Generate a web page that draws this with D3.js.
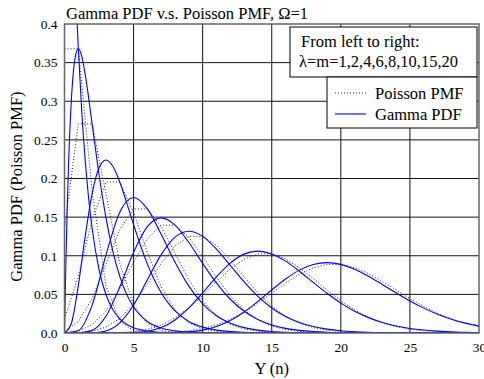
<!DOCTYPE html>
<html>
<head>
<meta charset="utf-8">
<script src="https://cdn.jsdelivr.net/npm/d3@7"></script>
<style>
  html, body { margin: 0; padding: 0; background: #fff; }
  svg { display: block; }
  text { font-family: "Liberation Serif", "Times New Roman", serif; fill: #000; }
</style>
</head>
<body>
<svg id="chart" width="484" height="379"></svg>
<script>
// ---------- data ----------
const xTicks = [0, 5, 10, 15, 20, 25, 30];
const yTicks = [0, 0.05, 0.1, 0.15, 0.2, 0.25, 0.3, 0.35, 0.4];
const yTickLabels = ["0.0", "0.05", "0.1", "0.15", "0.2", "0.25", "0.3", "0.35", "0.4"];
const orders = [1, 2, 4, 6, 8, 10, 15, 20];

// Poisson PMF at n = 0..30
const nValues = [0,1,2,3,4,5,6,7,8,9,10,11,12,13,14,15,16,17,18,19,20,21,22,23,24,25,26,27,28,29,30];
const poisson1  = [0.3679,0.3679,0.1839,0.0613,0.0153,0.0031,0.0005,0.0001,0,0,0,0,0,0,0,0,0,0,0,0,0,0,0,0,0,0,0,0,0,0,0];
const poisson2  = [0.1353,0.2707,0.2707,0.1804,0.0902,0.0361,0.0120,0.0034,0.0009,0.0002,0,0,0,0,0,0,0,0,0,0,0,0,0,0,0,0,0,0,0,0,0];
const poisson4  = [0.0183,0.0733,0.1465,0.1954,0.1954,0.1563,0.1042,0.0595,0.0298,0.0132,0.0053,0.0019,0.0006,0.0002,0.0001,0,0,0,0,0,0,0,0,0,0,0,0,0,0,0,0];
const poisson6  = [0.0025,0.0149,0.0446,0.0892,0.1339,0.1606,0.1606,0.1377,0.1033,0.0688,0.0413,0.0225,0.0113,0.0052,0.0022,0.0009,0.0003,0.0001,0,0,0,0,0,0,0,0,0,0,0,0,0];
const poisson8  = [0.0003,0.0027,0.0107,0.0286,0.0573,0.0916,0.1221,0.1396,0.1396,0.1241,0.0993,0.0722,0.0481,0.0296,0.0169,0.0090,0.0045,0.0021,0.0009,0.0004,0.0002,0.0001,0,0,0,0,0,0,0,0,0];
const poisson10 = [0,0.0005,0.0023,0.0076,0.0189,0.0378,0.0631,0.0901,0.1126,0.1251,0.1251,0.1137,0.0948,0.0729,0.0521,0.0347,0.0217,0.0128,0.0071,0.0037,0.0019,0.0009,0.0004,0.0002,0.0001,0,0,0,0,0,0];
const poisson15 = [0,0,0,0.0002,0.0006,0.0019,0.0048,0.0104,0.0194,0.0324,0.0486,0.0663,0.0829,0.0956,0.1024,0.1024,0.0960,0.0847,0.0706,0.0557,0.0418,0.0299,0.0204,0.0133,0.0083,0.0050,0.0029,0.0016,0.0009,0.0004,0.0002];
const poisson20 = [0,0,0,0,0,0.0001,0.0002,0.0005,0.0013,0.0029,0.0058,0.0106,0.0176,0.0271,0.0387,0.0516,0.0646,0.0760,0.0844,0.0888,0.0888,0.0846,0.0769,0.0669,0.0557,0.0446,0.0343,0.0254,0.0181,0.0125,0.0083];

// Gamma PDF samples (Omega = 1)
const gammaX1 = [0,0.25,0.5,0.75,0.9,1,1.25,1.5,1.75,2,2.5,3,3.5,4,5,6,7,8,10,30];
const gamma1  = [1,0.7788,0.6065,0.4724,0.4066,0.3679,0.2865,0.2231,0.1738,0.1353,0.0821,0.0498,0.0302,0.0183,0.0067,0.0025,0.0009,0.0003,0,0];
const gammaX2 = [0,0.1,0.2,0.3,0.4,0.5,0.6,0.8,1,1.25,1.5,1.75,2,2.5,3,3.5,4,4.5,5,6,7,8,9,10,12,30];
const gamma2  = [0,0.0905,0.1637,0.2222,0.2681,0.3033,0.3293,0.3595,0.3679,0.3581,0.3347,0.3041,0.2707,0.2052,0.1494,0.1057,0.0733,0.0500,0.0337,0.0149,0.0064,0.0027,0.0011,0.0005,0.0001,0];
const gammaX4 = [0,0.5,1,1.5,2,2.5,3,3.5,4,4.5,5,5.5,6,6.5,7,7.5,8,9,10,11,12,14,16,30];
const gamma4  = [0,0.0126,0.0613,0.1255,0.1804,0.2138,0.2240,0.2158,0.1954,0.1687,0.1404,0.1133,0.0892,0.0688,0.0521,0.0389,0.0286,0.0150,0.0076,0.0037,0.0018,0.0004,0.0001,0];
const gammaXInt = [0,1,2,3,4,5,6,7,8,9,10,11,12,13,14,15,16,17,18,19,20,21,22,23,24,25,26,27,28,29,30];
const gamma6  = [0,0.0031,0.0361,0.1008,0.1563,0.1755,0.1606,0.1277,0.0916,0.0607,0.0378,0.0224,0.0127,0.0070,0.0037,0.0019,0.0010,0.0005,0.0002,0.0001,0,0,0,0,0,0,0,0,0,0,0];
const gamma8  = [0,0.0001,0.0034,0.0216,0.0595,0.1044,0.1377,0.1490,0.1396,0.1171,0.0901,0.0646,0.0437,0.0281,0.0174,0.0104,0.0060,0.0034,0.0019,0.0010,0.0005,0.0003,0.0001,0.0001,0,0,0,0,0,0,0];
const gamma10 = [0,0,0.0002,0.0027,0.0132,0.0363,0.0688,0.1014,0.1241,0.1318,0.1251,0.1085,0.0874,0.0661,0.0473,0.0324,0.0213,0.0135,0.0083,0.0050,0.0029,0.0017,0.0009,0.0005,0.0003,0.0001,0.0001,0,0,0,0];
const gamma15 = [0,0,0,0,0.0001,0.0005,0.0022,0.0071,0.0169,0.0324,0.0521,0.0728,0.0905,0.1021,0.1060,0.1024,0.0930,0.0800,0.0655,0.0514,0.0387,0.0282,0.0199,0.0136,0.0091,0.0059,0.0038,0.0024,0.0014,0.0009,0.0005];
const gamma20 = [0,0,0,0,0,0,0,0.0001,0.0004,0.0014,0.0037,0.0084,0.0161,0.0272,0.0409,0.0557,0.0699,0.0814,0.0887,0.0911,0.0888,0.0826,0.0735,0.0629,0.0520,0.0415,0.0322,0.0243,0.0178,0.0128,0.0089];

const poissonSeries = [poisson1, poisson2, poisson4, poisson6, poisson8, poisson10, poisson15, poisson20];
const gammaSeries = [
  [gammaX1, gamma1], [gammaX2, gamma2], [gammaX4, gamma4],
  [gammaXInt, gamma6], [gammaXInt, gamma8], [gammaXInt, gamma10],
  [gammaXInt, gamma15], [gammaXInt, gamma20]
];

// ---------- layout ----------
const svg = d3.select("#chart");
const L = 64.5, R = 479, T = 24, B = 333;
const x = d3.scaleLinear().domain([0, 30]).range([L, R]);
const y = d3.scaleLinear().domain([0, 0.4]).range([B, T]);

svg.append("defs").append("clipPath").attr("id", "plotClip")
  .append("rect").attr("x", L).attr("y", T).attr("width", R - L).attr("height", B - T);

// grid
const grid = svg.append("g");
grid.selectAll("line.gx").data(xTicks.slice(1, -1)).enter().append("line")
  .attr("x1", d => x(d)).attr("x2", d => x(d)).attr("y1", T).attr("y2", B)
  .attr("stroke", "#111").attr("stroke-width", 1);
grid.selectAll("line.gy").data(yTicks.slice(1, -1)).enter().append("line")
  .attr("y1", d => y(d)).attr("y2", d => y(d)).attr("x1", L).attr("x2", R)
  .attr("stroke", "#111").attr("stroke-width", 1);

// curves
const plot = svg.append("g").attr("clip-path", "url(#plotClip)");
const poissonLine = d3.line().x((d, i) => x(nValues[i])).y(d => y(d)).curve(d3.curveLinear);
poissonSeries.forEach(s => {
  plot.append("path").attr("d", poissonLine(s))
    .attr("fill", "none").attr("stroke", "#222").attr("stroke-width", 1)
    .attr("stroke-dasharray", "1,2");
});
gammaSeries.forEach(([xs, ys]) => {
  const pts = xs.map((v, i) => [v, ys[i]]);
  const line = d3.line().x(d => x(d[0])).y(d => y(d[1])).curve(d3.curveMonotoneX);
  plot.append("path").attr("d", line(pts))
    .attr("fill", "none").attr("stroke", "#0000ff").attr("stroke-width", 1.1);
});

// frame
svg.append("rect").attr("x", L).attr("y", T).attr("width", R - L).attr("height", B - T)
  .attr("fill", "none").attr("stroke", "#666").attr("stroke-width", 1.5);

// axes labels via d3 axes (no domain/ticks lines)
const xAxis = d3.axisBottom(x).tickValues(xTicks).tickSize(0).tickPadding(9).tickFormat(d3.format("d"));
const gx = svg.append("g").attr("transform", `translate(0,${B})`).call(xAxis);
gx.select(".domain").remove();
gx.selectAll("text").style("font-size", "13.5px").style("font-family", "'Liberation Serif', serif").attr("fill", "#000");

const yAxis = d3.axisLeft(y).tickValues(yTicks).tickSize(0).tickPadding(7)
  .tickFormat((d, i) => yTickLabels[i]);
const gy = svg.append("g").attr("transform", `translate(${L},0)`).call(yAxis);
gy.select(".domain").remove();
gy.selectAll("text").style("font-size", "13.5px").style("font-family", "'Liberation Serif', serif").attr("fill", "#000");

// title and axis titles
svg.append("text").attr("x", 66).attr("y", 19).style("font-size", "16.5px")
  .text("Gamma PDF v.s. Poisson PMF, \u03A9=1");
svg.append("text").attr("x", x(15)).attr("y", 374).attr("text-anchor", "middle").style("font-size", "16.5px")
  .text("Y (n)");
svg.append("text").attr("transform", `translate(22,${(T + B) / 2 + 8}) rotate(-90)`)
  .attr("text-anchor", "middle").style("font-size", "16.5px")
  .text("Gamma PDF (Poisson PMF)");

// legend boxes
const lg = svg.append("g");
lg.append("rect").attr("x", 290).attr("y", 27).attr("width", 187).attr("height", 50)
  .attr("fill", "#fff").attr("stroke", "#000").attr("stroke-width", 1);
lg.append("text").attr("x", 301).attr("y", 47).style("font-size", "16.5px").text("From left to right:");
lg.append("text").attr("x", 299).attr("y", 67).style("font-size", "16.5px")
  .text("\u03BB=m=" + orders.join(","));
lg.append("rect").attr("x", 327).attr("y", 77).attr("width", 150).attr("height", 51)
  .attr("fill", "#fff").attr("stroke", "#000").attr("stroke-width", 1);
lg.append("line").attr("x1", 335).attr("x2", 366).attr("y1", 93).attr("y2", 93)
  .attr("stroke", "#222").attr("stroke-width", 1).attr("stroke-dasharray", "1,2");
lg.append("text").attr("x", 375).attr("y", 99).style("font-size", "16.5px").text("Poisson PMF");
lg.append("line").attr("x1", 335).attr("x2", 366).attr("y1", 114).attr("y2", 114)
  .attr("stroke", "#0000ff").attr("stroke-width", 1.1);
lg.append("text").attr("x", 375).attr("y", 120).style("font-size", "16.5px").text("Gamma PDF");
</script>
</body>
</html>
